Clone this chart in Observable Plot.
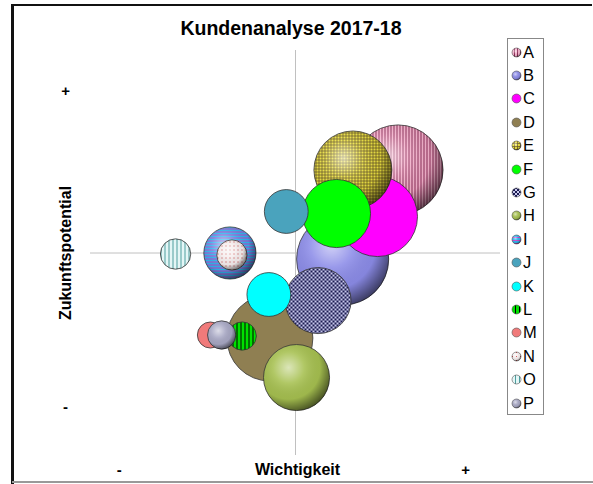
<!DOCTYPE html>
<html>
<head>
<meta charset="utf-8">
<script src="https://cdn.jsdelivr.net/npm/d3@7"></script>
<script src="https://cdn.jsdelivr.net/npm/@observablehq/plot@0.6"></script>
<style>
  html, body { margin: 0; padding: 0; background: #fff; }
  #wrap { position: relative; width: 593px; height: 484px; overflow: hidden; font-family: "Liberation Sans", Arial, sans-serif; }
  #frameTop { position: absolute; left: 12px; top: 4px; width: 580px; height: 2px; background: #111; }
  #frameLeft { position: absolute; left: 11px; top: 4px; width: 3px; height: 480px; background: #111; }
  #frameBottom { position: absolute; left: 12px; top: 481px; width: 581px; height: 2px; background: #999; }
  #title { position: absolute; left: 0; width: 582px; top: 17px; text-align: center; font-weight: bold; font-size: 19.5px; color: #000; }
  #chart { position: absolute; left: 0; top: 0; }
  #legend { position: absolute; left: 507px; top: 38px; width: 35px; height: 375px; border: 1px solid #888; background: #fff; }
  .li { position: absolute; left: 3px; height: 20px; display: flex; align-items: center; font-size: 16.5px; color: #000; }
  .li svg { margin-right: 1px; }
</style>
</head>
<body>
<div id="wrap">
  <div id="frameTop"></div>
  <div id="frameLeft"></div>
  <div id="frameBottom"></div>
  <div id="chart"></div>
  <div id="title">Kundenanalyse 2017-18</div>
  <div id="legend"></div>
</div>
<script>
// ---- data ----
const names = ["A","B","C","D","E","F","G","H","I","J","K","L","M","N","O","P"];
const wichtigkeit = [5.0, 2.3, 4.0, -1.25, 2.8, 2.0, 1.1, 0.05, -3.2, -0.45, -1.3, -2.6, -4.15, -3.1, -5.85, -3.6];
const zukunft = [4.1, -0.3, 1.8, -4.2, 4.1, 1.95, -2.35, -6.15, 0.0, 2.05, -2.05, -4.1, -4.05, -0.1, -0.05, -4.05];
const umsatz = [20.3, 21.2, 16.0, 18.5, 15.2, 11.6, 10.9, 10.9, 6.8, 4.8, 4.8, 2.0, 1.7, 2.3, 2.3, 2.0];
const fills = ["url(#patA)","#8c8ce8","#ff00ff","#8f7f52","url(#patE)","#00ff00","url(#patG)","#a6c050","url(#patI)","#4aa3bd","#00ffff","url(#patL)","#f07a7a","url(#patN)","url(#patO)","#a8a8c4"];
const shaded = [true,true,false,false,true,false,false,true,true,false,false,false,false,true,false,true];

const xTickValues = [-8.6, 8.3];
const xTickLabels = ["-", "+"];
const yTickValues = [8.0, -7.6];
const yTickLabels = ["+", "-"];
const xLabel = "Wichtigkeit";
const yLabel = "Zukunftspotential";

const table = names.map((n, i) => ({name: n, x: wichtigkeit[i], y: zukunft[i], s: umsatz[i], fill: fills[i], shaded: shaded[i]}));

const bubbleMarks = table.flatMap(d => {
  const m = [Plot.dot([d], {x: "x", y: "y", r: "s", fill: d.fill, stroke: "#333", strokeWidth: 0.8})];
  if (d.shaded) m.push(Plot.dot([d], {x: "x", y: "y", r: "s", fill: "url(#shade)", stroke: "none"}));
  return m;
});

const chart = Plot.plot({
  width: 593, height: 484,
  marginLeft: 90, marginRight: 93, marginTop: 50, marginBottom: 29,
  x: {domain: [-10, 10], axis: null},
  y: {domain: [-10, 10], axis: null},
  r: {type: "sqrt", domain: [0, 100], range: [0, 100]},
  style: {fontFamily: "Liberation Sans, Arial, sans-serif", background: "transparent", overflow: "visible"},
  marks: [
    Plot.ruleX([0], {stroke: "#c0c0c0", strokeWidth: 1}),
    Plot.ruleY([0], {stroke: "#c0c0c0", strokeWidth: 1}),
    ...bubbleMarks,
    Plot.text(xTickValues, {x: d => d, text: (d, i) => xTickLabels[i], frameAnchor: "bottom", textAnchor: "middle", dy: 19, fontSize: 15, fontWeight: "bold", fill: "#000"}),
    Plot.text([xLabel], {text: d => d, frameAnchor: "bottom", textAnchor: "middle", dy: 19, dx: 2, fontSize: 16, fontWeight: "bold", fill: "#000"}),
    Plot.text(yTickValues, {y: d => d, text: (d, i) => yTickLabels[i], frameAnchor: "left", textAnchor: "middle", dx: -25, fontSize: 15, fontWeight: "bold", fill: "#000"}),
    Plot.text([yLabel], {text: d => d, frameAnchor: "left", textAnchor: "middle", dx: -25, rotate: -90, fontSize: 16, fontWeight: "bold", fill: "#000"})
  ]
});

const defs = `
<defs>
  <radialGradient id="shade" cx="0.38" cy="0.35" r="0.68">
    <stop offset="0" stop-color="#fff" stop-opacity="0.6"/>
    <stop offset="0.35" stop-color="#fff" stop-opacity="0.12"/>
    <stop offset="0.7" stop-color="#000" stop-opacity="0.05"/>
    <stop offset="1" stop-color="#000" stop-opacity="0.55"/>
  </radialGradient>
  <pattern id="patA" patternUnits="userSpaceOnUse" width="3" height="3">
    <rect width="3" height="3" fill="#f4b2cc"/>
    <rect x="0" width="1" height="3" fill="#8a2a55"/>
  </pattern>
  <pattern id="patE" patternUnits="userSpaceOnUse" width="3" height="3">
    <rect width="3" height="3" fill="#ece040"/>
    <rect x="0" width="1" height="3" fill="#5a4a20" opacity="0.7"/>
    <rect y="0" width="3" height="1" fill="#5a4a20" opacity="0.7"/>
  </pattern>
  <pattern id="patG" patternUnits="userSpaceOnUse" width="4" height="4">
    <rect width="4" height="4" fill="#c8c8ec"/>
    <rect x="0" y="0" width="2" height="2" fill="#1a1a50"/>
    <rect x="2" y="2" width="2" height="2" fill="#1a1a50"/>
  </pattern>
  <pattern id="patI" patternUnits="userSpaceOnUse" width="3" height="3">
    <rect width="3" height="3" fill="#2eb4ec"/>
    <rect y="0" width="3" height="1" fill="#c040c8"/>
  </pattern>
  <pattern id="patL" patternUnits="userSpaceOnUse" width="4" height="4">
    <rect width="4" height="4" fill="#00e000"/>
    <rect x="0" width="1" height="4" fill="#000"/>
  </pattern>
  <pattern id="patN" patternUnits="userSpaceOnUse" width="4" height="4">
    <rect width="4" height="4" fill="#f6eeee"/>
    <rect x="1" y="1" width="1" height="1" fill="#c03838"/>
  </pattern>
  <pattern id="patO" patternUnits="userSpaceOnUse" width="4" height="4">
    <rect width="4" height="4" fill="#e4f6f6"/>
    <rect x="0" width="1" height="4" fill="#4e9e9e"/>
  </pattern>
</defs>`;
chart.insertAdjacentHTML("afterbegin", defs);
document.getElementById("chart").appendChild(chart);

// legend
const legend = document.getElementById("legend");
names.forEach((n, i) => {
  const div = document.createElement("div");
  div.className = "li";
  div.style.top = (3 + i * 23.4) + "px";
  div.innerHTML = `<svg width="11" height="11"><circle cx="5.5" cy="5.5" r="4.5" fill="${fills[i]}" stroke="#555" stroke-width="0.6"/>${shaded[i] ? '<circle cx="5.5" cy="5.5" r="4.5" fill="url(#shade)"/>' : ''}</svg><span>${n}</span>`;
  legend.appendChild(div);
});
</script>
</body>
</html>
